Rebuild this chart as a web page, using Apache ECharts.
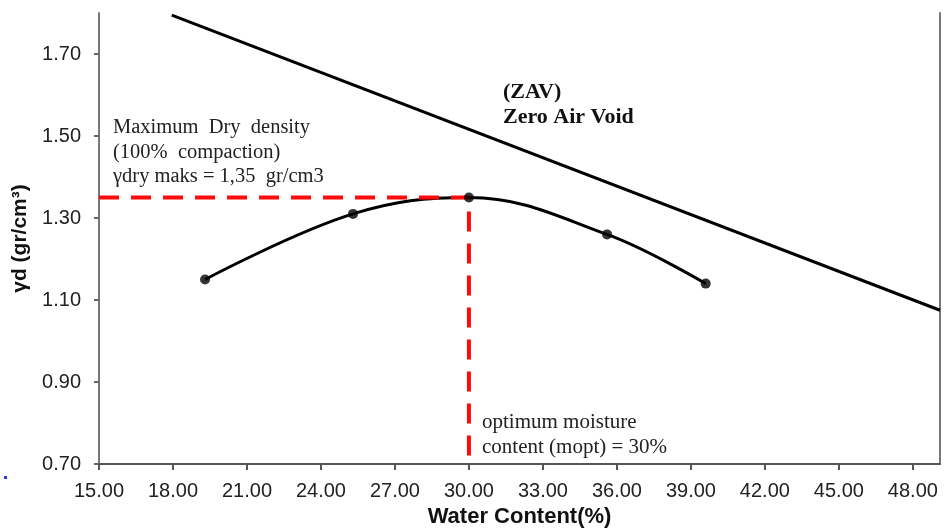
<!DOCTYPE html>
<html>
<head>
<meta charset="utf-8">
<script src="https://cdn.jsdelivr.net/npm/echarts@6/dist/echarts.min.js"></script>
<style>
  html, body { margin: 0; padding: 0; background: #ffffff; }
  #chart { width: 945px; height: 528px; }
</style>
</head>
<body>
<div id="chart"></div>
<script>
// Axis ranges and tick positions
const xMin = 15, xMax = 49.1;
const yMin = 0.7, yMax = 1.8;
const xTicks = [15, 18, 21, 24, 27, 30, 33, 36, 39, 42, 45, 48];
const yTicks = [0.7, 0.9, 1.1, 1.3, 1.5, 1.7];

// Compaction test results: water content (%) vs dry density (gr/cm3)
const waterContent = [19.3, 25.3, 30.0, 35.6, 39.6];
const dryDensity = [1.15, 1.31, 1.35, 1.26, 1.14];

// Zero air void line end points
const zavWater = [17.95, 49.1];
const zavDensity = [1.795, 1.075];

// Optimum point
const optWater = 30;
const maxDensity = 1.35;

const curvePts = waterContent.map((w, i) => [w, dryDensity[i]]);
const zavPts = zavWater.map((w, i) => [w, zavDensity[i]]);
const guidePts = [[xMin, maxDensity], [optWater, maxDensity], [optWater, yMin]];

const serif = '"Liberation Serif", "Times New Roman", serif';
const sans = '"Liberation Sans", Arial, sans-serif';

function note(text, x, y, font, fill) {
  return {
    type: 'text', x: x, y: y,
    style: { text: text, font: font, fill: fill, align: 'left', verticalAlign: 'middle' }
  };
}

const chart = echarts.init(document.getElementById('chart'), null, { renderer: 'canvas' });

chart.setOption({
  animation: false,
  backgroundColor: '#ffffff',
  grid: { left: 99, right: 5, top: 13, bottom: 64, containLabel: false, outerBoundsMode: 'none' },
  xAxis: {
    type: 'value',
    min: xMin,
    max: xMax,
    name: 'Water Content(%)',
    nameLocation: 'middle',
    nameGap: 39,
    nameTextStyle: { fontFamily: sans, fontSize: 22, fontWeight: 'bold', color: '#111' },
    axisLine: { show: true, onZero: false, lineStyle: { color: '#555', width: 2 } },
    axisTick: { show: true, length: 6, customValues: xTicks, lineStyle: { color: '#555', width: 2 } },
    axisLabel: {
      customValues: xTicks,
      margin: 17,
      fontFamily: sans,
      fontSize: 20,
      color: '#222',
      formatter: v => v.toFixed(2)
    },
    splitLine: { show: false }
  },
  yAxis: [{
    type: 'value',
    min: yMin,
    max: yMax,
    name: 'γd (gr/cm³)',
    nameLocation: 'middle',
    nameGap: 63,
    nameRotate: 90,
    nameTextStyle: { fontFamily: sans, fontSize: 21, fontWeight: 'bold', color: '#111' },
    axisLine: { show: true, onZero: false, lineStyle: { color: '#777', width: 2 } },
    axisTick: { show: true, length: 5, customValues: yTicks, lineStyle: { color: '#666', width: 2 } },
    axisLabel: {
      customValues: yTicks,
      margin: 18,
      fontFamily: sans,
      fontSize: 20,
      color: '#222',
      formatter: v => v.toFixed(2)
    },
    splitLine: { show: false }
  }, {
    type: 'value',
    position: 'right',
    min: yMin,
    max: yMax,
    axisLine: { show: true, onZero: false, lineStyle: { color: '#777', width: 2 } },
    axisTick: { show: false },
    axisLabel: { show: false },
    splitLine: { show: false }
  }],
  series: [
    {
      name: 'ZAV',
      type: 'line',
      data: zavPts,
      showSymbol: false,
      lineStyle: { color: '#000', width: 3 },
      z: 2
    },
    {
      name: 'Compaction curve',
      type: 'line',
      data: curvePts,
      smooth: 0.38,
      showSymbol: false,
      lineStyle: { color: '#000', width: 3 },
      z: 2
    },
    {
      name: 'Optimum guide',
      type: 'line',
      data: guidePts,
      showSymbol: false,
      lineStyle: { color: '#ff0a0a', width: 4, type: [20, 12] },
      z: 3
    },
    {
      name: 'Test points',
      type: 'scatter',
      data: curvePts,
      symbol: 'circle',
      symbolSize: 10,
      itemStyle: { color: '#000' },
      z: 4
    }
  ],
  graphic: [
    note('Maximum  Dry  density', 113, 128, '20.5px ' + serif, '#222'),
    note('(100%  compaction)', 113, 153, '20.5px ' + serif, '#222'),
    note('γdry maks = 1,35  gr/cm3', 113, 177, '20.5px ' + serif, '#222'),
    note('(ZAV)', 503, 92, 'bold 22px ' + serif, '#111'),
    note('Zero Air Void', 503, 117, 'bold 22px ' + serif, '#111'),
    note('optimum moisture', 482, 422, '21px ' + serif, '#222'),
    note('content (mopt) = 30%', 482, 447, '21px ' + serif, '#222'),
    { type: 'rect', left: 4, top: 476, shape: { width: 3, height: 3 }, style: { fill: '#2a3ad8' } }
  ]
});
</script>
</body>
</html>
